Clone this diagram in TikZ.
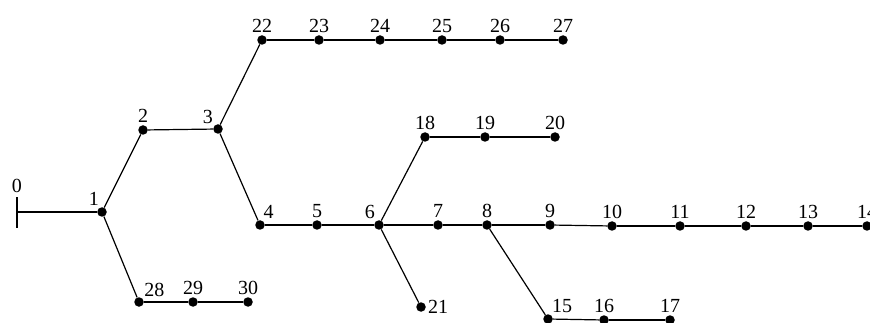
\documentclass[tikz,border=0pt]{standalone}
\usepackage{fontspec}
\setmainfont{Liberation Serif}
\usepackage{tikz}

\tikzset{
  bus/.style={circle,fill=black,inner sep=0pt,minimum size=9.5pt},
  feeder/.style={line width=1.2pt},
  every label/.style={font=\fontsize{20}{22}\selectfont,inner sep=1pt},
  label distance=1pt
}

\begin{document}
\begin{tikzpicture}[x=1pt,y=-1pt]
\useasboundingbox (0,0) rectangle (870,323);

% source bus
\coordinate (b0) at (17,212);
\draw[line width=2.2pt] ([yshift=-16pt]b0) -- ([yshift=15pt]b0)
  node[above=2pt,font=\fontsize{20}{22}\selectfont,inner sep=1pt] (lbl0) {0};

% buses: number / x / y / label position
\foreach \n/\x/\y/\p in {1/102/212/110, 2/143/130/above, 3/218/129/130,
    4/260/225/65, 5/317/225/above, 6/379/225/120, 7/438/225/above,
    8/487/225/above, 9/550/225/above, 10/612/226/above, 11/680/226/above,
    12/746/226/above, 13/808/226/above, 14/867/226/above,
    15/548/319/60, 16/604/320/above, 17/670/320/above,
    18/425/137/above, 19/485/137/above, 20/555/137/above,
    21/421/307/right, 22/262/40/above, 23/319/40/above, 24/380/40/above,
    25/442/40/above, 26/500/40/above, 27/563/40/above,
    28/139/302/45, 29/193/302/above, 30/248/302/above}{
  \node[bus,label={\p:\n}] (b\n) at (\x,\y) {};
}

% branches
\foreach \a/\b in {0/1,1/2,2/3,3/4,4/5,5/6,6/7,7/8,8/9,9/10,10/11,11/12,12/13,13/14,
    8/15,15/16,16/17,6/18,18/19,19/20,6/21,3/22,22/23,23/24,24/25,25/26,26/27,
    1/28,28/29,29/30}{
  \draw[feeder] (b\a) -- (b\b);
}
\end{tikzpicture}
\end{document}
